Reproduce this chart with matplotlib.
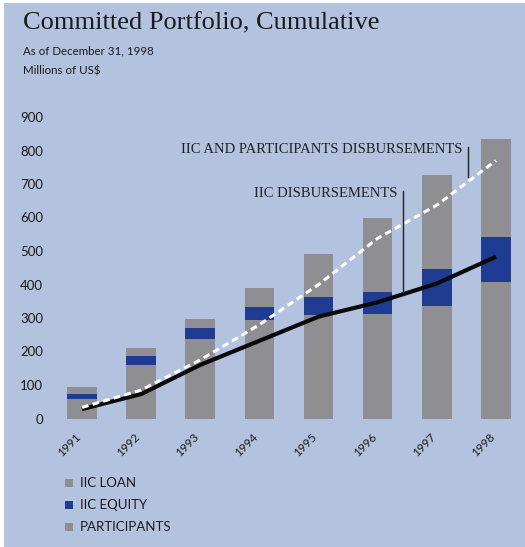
import matplotlib
matplotlib.use("Agg")
import matplotlib.pyplot as plt
from matplotlib.patches import Rectangle
from matplotlib.transforms import ScaledTranslation
import numpy as np

years = ["1991", "1992", "1993", "1994", "1995", "1996", "1997", "1998"]
iic_loan = [59, 160, 236, 294, 308, 312, 336, 408]
iic_equity = [13, 27, 33, 38, 54, 67, 109, 134]
participants = [21, 23, 28, 58, 128, 220, 282, 292]
total_disb = [33, 85, 175, 280, 400, 538, 637, 770]
iic_disb = [28, 73, 160, 232, 304, 347, 403, 483]
yticks = [0, 100, 200, 300, 400, 500, 600, 700, 800, 900]

BG = "#b3c2de"
GRAY = "#8f8f93"
BLUE = "#1f3b92"
TXT = "#1a1a1a"

W, H = 525, 547
fig = plt.figure(figsize=(W / 100, H / 100), dpi=100, facecolor="white")
fig.patches.append(Rectangle((4 / W, 0), 1, 1 - 3 / H, transform=fig.transFigure,
                             facecolor=BG, edgecolor="none", zorder=-10))

x0_px, x1_px = 50, 520
y0_px, y1_px = 418.5, 117.0
ax = fig.add_axes([x0_px / W, 1 - y0_px / H, (x1_px - x0_px) / W, (y0_px - y1_px) / H])
ax.set_facecolor("none")
step = 59.14
ax.set_xlim((x0_px - 82) / step, (x1_px - 82) / step)
ax.set_ylim(0, 900)

x = np.arange(len(years))
lo = np.array(iic_loan)
eq = np.array(iic_equity)
pa = np.array(participants)
bw = 0.5
ax.bar(x, lo, width=bw, color=GRAY, zorder=2)
ax.bar(x, eq, width=bw, bottom=lo, color=BLUE, zorder=2)
ax.bar(x, pa, width=bw, bottom=lo + eq, color=GRAY, zorder=2)

ax.plot(x, iic_disb, color="#0a0a0a", lw=3.0, solid_capstyle="butt",
        solid_joinstyle="round", zorder=3)
ax.plot(x, total_disb, color="white", lw=2.2, ls=(0, (2.2, 1.4)),
        dash_capstyle="butt", zorder=4)

for s in ax.spines.values():
    s.set_visible(False)
ax.set_yticks(yticks)
ax.set_yticklabels([str(v) for v in yticks], fontsize=9.5, family="Lato", color=TXT)
ax.tick_params(axis="y", length=0, pad=5)
ax.set_xticks(x)
ax.set_xticklabels(years, rotation=45, ha="right", rotation_mode="anchor",
                   fontsize=8.5, family="Lato", color=TXT)
ax.tick_params(axis="x", length=0, pad=9)
shift = ScaledTranslation(-7 / 100, 0, fig.dpi_scale_trans)
for lab in ax.get_xticklabels():
    lab.set_transform(lab.get_transform() + shift)

# annotations
ann_font = dict(family="Liberation Serif", fontsize=10.5, color="#222222")
ax.text(6.44, 792, "IIC AND PARTICIPANTS DISBURSEMENTS", ha="right", va="baseline", **ann_font)
ax.plot([6.53, 6.53], [721, 810], color="#222222", lw=1.0, zorder=5)
ax.text(5.34, 662, "IIC DISBURSEMENTS", ha="right", va="baseline", **ann_font)
ax.plot([5.42, 5.42], [378, 679], color="#222222", lw=1.0, zorder=5)

# titles
fig.text(23 / W, 1 - 29 / H, "Committed Portfolio, Cumulative", family="Liberation Serif",
         fontsize=19, color=TXT, ha="left", va="baseline")
fig.text(23 / W, 1 - 54 / H, "As of December 31, 1998", family="Lato",
         fontsize=8.3, color=TXT, ha="left", va="baseline")
fig.text(23 / W, 1 - 74 / H, "Millions of US$", family="Lato",
         fontsize=8.3, color=TXT, ha="left", va="baseline")

# legend
leg_items = [("IIC LOAN", GRAY), ("IIC EQUITY", BLUE), ("PARTICIPANTS", GRAY)]
for i, (lab, col) in enumerate(leg_items):
    yc = 483 + i * 22
    fig.patches.append(Rectangle((65 / W, 1 - (yc + 4) / H), 8 / W, 8 / H,
                                 transform=fig.transFigure, facecolor=col, edgecolor="none"))
    fig.text(80 / W, 1 - yc / H, lab, family="Lato", fontsize=9.5, color=TXT,
             ha="left", va="center")

fig.savefig("out.png", dpi=100, facecolor=fig.get_facecolor())
